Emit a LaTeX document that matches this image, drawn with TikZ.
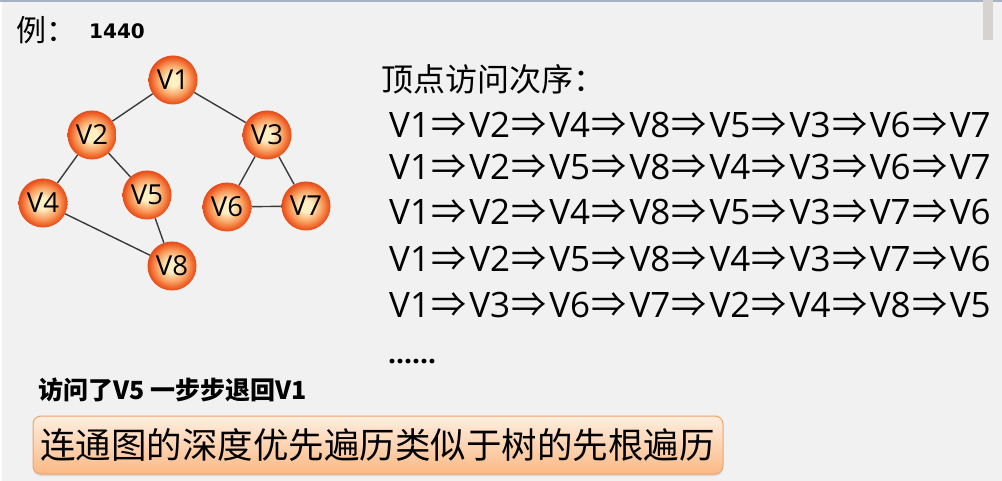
\documentclass[tikz,border=0pt]{standalone}
\usepackage{fontspec}
\setmainfont{Open Sans}
\newfontfamily\cjk{Noto Sans CJK SC}
\newfontfamily\dvs{DejaVu Sans}
\usetikzlibrary{shadows}
\definecolor{bg}{HTML}{F1F1F1}
\definecolor{topline}{HTML}{A9B1C4}
\definecolor{scroll}{HTML}{D6D2D0}
\definecolor{edgegray}{HTML}{3A3A3A}
\definecolor{vcream}{HTML}{FFF0C4}
\definecolor{vmid}{HTML}{F9A060}
\definecolor{vouter}{HTML}{EE5A22}
\definecolor{vrim}{HTML}{E24E1C}
\definecolor{boxtop}{HTML}{FFEEDF}
\definecolor{boxbot}{HTML}{FAB985}
\definecolor{boxline}{HTML}{EFA36A}
\pgfdeclareradialshading{vball}{\pgfpoint{0bp}{0bp}}{color(0bp)=(vcream); color(6bp)=(vcream); color(16bp)=(vmid); color(23bp)=(vouter); color(25bp)=(vrim); color(50bp)=(vrim)}
\tikzset{
  vert/.style={circle, minimum size=49pt, inner sep=0pt, shading=vball, text=black, font=\fontsize{27.5}{27.5}\selectfont},
  edge/.style={draw=edgegray, line width=1.4pt},
  seqV/.style={anchor=base west, inner sep=0pt, font=\fontsize{35}{35}\selectfont},
  seqA/.style={anchor=base, inner sep=0pt, font=\cjk\fontsize{35}{35}\selectfont},
  cjktext/.style={inner sep=0pt, font=\cjk\fontsize{#1}{#1}\selectfont},
  conclbox/.style={draw=boxline, line width=1pt, rounded corners=8pt, top color=boxtop, bottom color=boxbot,
     drop shadow={shadow xshift=0pt, shadow yshift=-2pt, opacity=0.2}}
}
\begin{document}
\begin{tikzpicture}[x=1pt,y=-1pt]
\fill[bg] (0,0) rectangle (1002,481);
\useasboundingbox (0,0) rectangle (1002,481);
\fill[white] (0,0) rectangle (2,481);
\fill[topline] (0,0) rectangle (1002,2);
\fill[scroll] (983,0) rectangle (993,40);

% title
\node[cjktext=30, anchor=base west] (title) at (16,42) {例：};
\node[inner sep=0pt, anchor=base west, font=\dvs\bfseries\fontsize{20}{20}\selectfont] (num) at (89,38.5) {1440};

% graph
\node[vert] (v1) at (173,80) {V1};
\node[vert] (v2) at (92,135) {V2};
\node[vert] (v3) at (267,135) {V3};
\node[vert] (v4) at (43,203) {V4};
\node[vert] (v5) at (147,195) {V5};
\node[vert] (v6) at (227,207) {V6};
\node[vert] (v7) at (306,206) {V7};
\node[vert] (v8) at (172,266) {V8};
\draw[edge] (v1) -- (v2);
\draw[edge] (v1) -- (v3);
\draw[edge] (v2) -- (v4);
\draw[edge] (v2) -- (v5);
\draw[edge] (v3) -- (v6);
\draw[edge] (v3) -- (v7);
\draw[edge] (v6) -- (v7);
\draw[edge] (v4) -- (v8);
\draw[edge] (v5) -- (v8);

% visiting orders
\node[cjktext=32, anchor=base west] (hdr) at (381,92) {顶点访问次序：};
\foreach \seq/\yb [count=\r] in {{1,2,4,8,5,3,6,7}/138,{1,2,5,8,4,3,6,7}/180,{1,2,4,8,5,3,7,6}/225,{1,2,5,8,4,3,7,6}/272,{1,3,6,7,2,4,8,5}/318}{
  \foreach \v [count=\i from 0] in \seq {
    \node[seqV] (s\r v\i) at ({389+80.1*\i},\yb) {V\v};
    \ifnum\i<7 \node[seqA] (s\r a\i) at ({449+80.1*\i},\yb) {⇒};\fi
  }
}
\node[inner sep=0pt, anchor=base west, font=\bfseries\fontsize{28}{28}\selectfont] (dots) at (388,363) {......};

% note
\node[cjktext=25, anchor=base west, font=\cjk\bfseries\fontsize{25}{25}\selectfont] (note) at (38,399) {访问了V5 一步步退回V1};

% conclusion box
\node[conclbox, minimum width=690pt, minimum height=58pt, inner sep=0pt] (concl) at (378,445) {};
\node[cjktext=35.5] (concltext) at (377.5,445) {连通图的深度优先遍历类似于树的先根遍历};
\end{tikzpicture}
\end{document}
